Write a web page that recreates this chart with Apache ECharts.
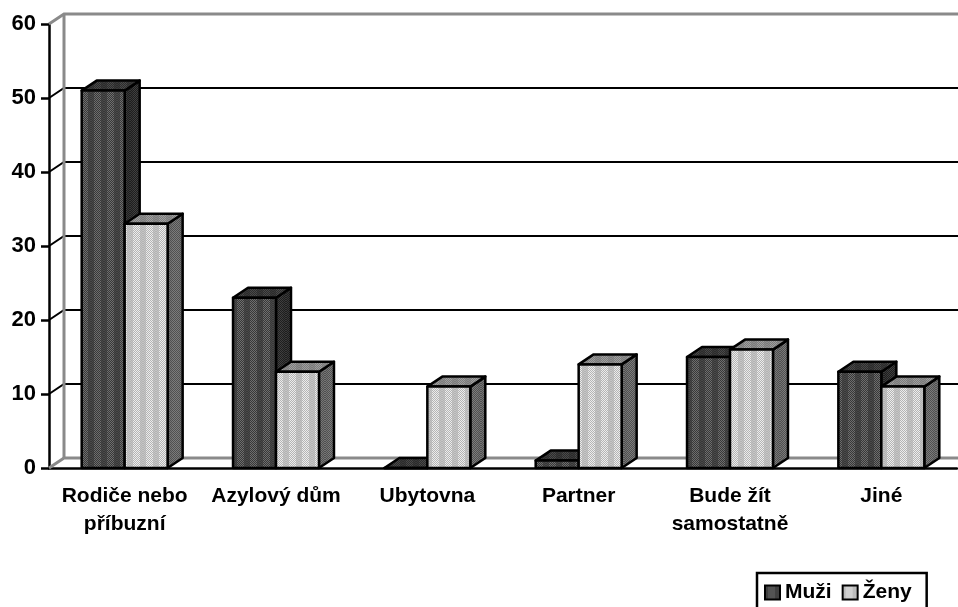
<!DOCTYPE html>
<html>
<head>
<meta charset="utf-8">
<style>html,body{margin:0;padding:0;background:#fff}#c{width:958px;height:607px}</style>
<script src="https://cdn.jsdelivr.net/npm/echarts@6/dist/echarts.min.js"></script>
</head>
<body>
<div id="c"></div>
<script>
var categories = ['Rodiče nebo\npříbuzní', 'Azylový dům', 'Ubytovna', 'Partner', 'Bude žít\nsamostatně', 'Jiné'];
var muzi = [51, 23, 0, 1, 15, 13];
var zeny = [33, 13, 11, 14, 16, 11];
var yTicks = [0, 10, 20, 30, 40, 50, 60];

var depthX = 15, depthY = 10;   // offset of the 3d back wall
var barShare = 0.284;           // bar width as part of a category
var font = '"Liberation Sans", Arial, sans-serif';

// dithered fill, vertical bands of checkers like the old office export
function dither(base, dot, dot2){
  var cv = document.createElement('canvas');
  cv.width = 13; cv.height = 4;
  var g = cv.getContext('2d');
  g.fillStyle = base;
  g.fillRect(0, 0, 13, 4);
  for(var x = 0; x < 13; x++){
    for(var y = 0; y < 4; y++){
      if((x + y) % 2 == 0){
        g.fillStyle = (x > 2 && x < 10) ? dot : dot2;
        g.fillRect(x, y, 1, 1);
      }
    }
  }
  return {image: cv, repeat: 'repeat'};
}

var darkFront = dither('#383838', '#6e6e6e', '#484848');
var darkTop = dither('#2c2c2c', '#4a4a4a', '#383838');
var darkSide = dither('#1e1e1e', '#404040', '#383838');
var lightFront = dither('#b4b4b4', '#ececec', '#c4c4c4');
var lightTop = dither('#7c7c7c', '#a0a0a0', '#8c8c8c');
var lightSide = dither('#505050', '#7c7c7c', '#747474');

function barItem(offset, front, top, side){
  return function(params, api){
    var base = api.coord([api.value(0), 0]);
    var head = api.coord([api.value(0), api.value(1)]);
    var w = api.size([1, 0])[0] * barShare;
    var x0 = base[0] + offset * w, x1 = x0 + w;
    var y0 = base[1], y1 = head[1];
    var line = {stroke: '#000', lineWidth: 2.5, lineJoin: 'round'};
    function face(pts, fill){
      return {type: 'polygon', shape: {points: pts}, style: Object.assign({fill: fill}, line)};
    }
    return {type: 'group', children: [
      face([[x1, y0], [x1 + depthX, y0 - depthY], [x1 + depthX, y1 - depthY], [x1, y1]], side),
      face([[x0, y1], [x0 + depthX, y1 - depthY], [x1 + depthX, y1 - depthY], [x1, y1]], top),
      face([[x0, y0], [x1, y0], [x1, y1], [x0, y1]], front)
    ]};
  };
}

function wallItem(params, api){
  var v = api.value(1);
  var p = api.coord([0, v]);
  var sys = params.coordSys;
  var edge = v == yTicks[0] || v == yTicks[yTicks.length - 1];
  var col = edge ? '#8a8a8a' : '#000';
  var lw = edge ? 3 : 2;
  var kids = [{
    type: 'polyline',
    shape: {points: [[sys.x, p[1]], [sys.x + depthX, p[1] - depthY], [sys.x + sys.width + depthX, p[1] - depthY]]},
    style: {fill: 'none', stroke: col, lineWidth: lw}
  }];
  if(v == yTicks[yTicks.length - 1]){
    kids.push({
      type: 'line',
      shape: {x1: sys.x + depthX, y1: p[1] - depthY, x2: sys.x + depthX, y2: sys.y + sys.height - depthY},
      style: {stroke: col, lineWidth: lw}
    });
  }
  return {type: 'group', children: kids};
}

function pairs(arr){
  return arr.map(function(v, i){ return [i, v]; });
}

var chart = echarts.init(document.getElementById('c'));
chart.setOption({
  animation: false,
  grid: {left: 49, right: 1, top: 24, bottom: 139},
  legend: {
    left: 757, top: 573,
    data: ['Muži', 'Ženy'],
    icon: 'rect',
    itemWidth: 15, itemHeight: 14, itemGap: 10,
    padding: [9, 15, 20, 7],
    borderColor: '#000', borderWidth: 2.5,
    textStyle: {fontFamily: font, fontWeight: 'bold', fontSize: 21, color: '#000'}
  },
  xAxis: {
    type: 'category',
    data: categories,
    axisLine: {lineStyle: {color: '#000', width: 2.5}},
    axisTick: {length: 8, lineStyle: {color: '#000', width: 2.5}, alignWithLabel: false},
    axisLabel: {
      interval: 0, margin: 14,
      fontFamily: font, fontWeight: 'bold', fontSize: 21, lineHeight: 28, color: '#000'
    }
  },
  yAxis: {
    type: 'value', min: 0, max: 60, interval: 10,
    axisLine: {show: true, lineStyle: {color: '#000', width: 2.5}},
    axisTick: {show: true, length: 8, lineStyle: {color: '#000', width: 2.5}},
    splitLine: {show: false},
    axisLabel: {margin: 13, fontFamily: font, fontWeight: 'bold', fontSize: 22, color: '#000'}
  },
  series: [
    {type: 'custom', name: 'wall', clip: false, silent: true, z: 1, renderItem: wallItem,
     encode: {x: 0, y: 1}, data: yTicks.map(function(v){ return [0, v]; })},
    {type: 'custom', name: 'Muži', clip: false, z: 3, renderItem: barItem(-1, darkFront, darkTop, darkSide),
     itemStyle: {color: darkFront, borderColor: '#000', borderWidth: 2},
     encode: {x: 0, y: 1}, data: pairs(muzi)},
    {type: 'custom', name: 'Ženy', clip: false, z: 4, renderItem: barItem(0, lightFront, lightTop, lightSide),
     itemStyle: {color: lightFront, borderColor: '#000', borderWidth: 2},
     encode: {x: 0, y: 1}, data: pairs(zeny)}
  ]
});
</script>
</body>
</html>
